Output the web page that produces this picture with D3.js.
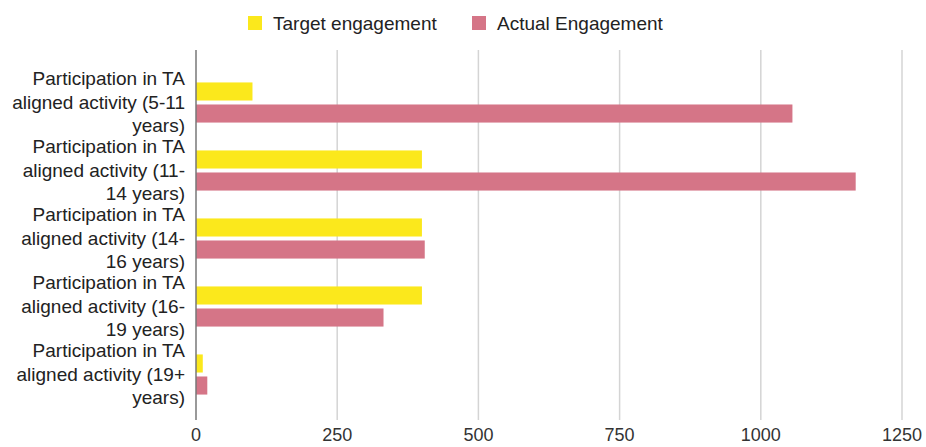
<!DOCTYPE html>
<html>
<head>
<meta charset="utf-8">
<script src="https://cdn.jsdelivr.net/npm/d3@7"></script>
<style>
  body { margin: 0; background: #fff; }
  svg text { font-family: "Liberation Sans", Arial, sans-serif; }
</style>
</head>
<body>
<svg id="chart" width="926" height="447"></svg>
<script>
// Data
const categories = [
  ["Participation in TA", "aligned activity (5-11", "years)"],
  ["Participation in TA", "aligned activity (11-", "14 years)"],
  ["Participation in TA", "aligned activity (14-", "16 years)"],
  ["Participation in TA", "aligned activity (16-", "19 years)"],
  ["Participation in TA", "aligned activity (19+", "years)"]
];
const seriesNames = ["Target engagement", "Actual Engagement"];
const targetValues = [100, 400, 400, 400, 12];
const actualValues = [1056, 1168, 405, 332, 20];
const xTicks = [0, 250, 500, 750, 1000, 1250];
const colors = ["#fbe81c", "#d57587"];

const svg = d3.select("#chart");
const plotLeft = 196, plotRight = 902, plotTop = 50, plotBottom = 420;
const fontSize = 19;
const lineStep = 23.3;

const x = d3.scaleLinear().domain([0, 1250]).range([plotLeft, plotRight]);
const y = d3.scaleBand().domain(d3.range(categories.length))
  .range([68.5, 408.5]).paddingInner(0.41).paddingOuter(0.205);
const ySub = d3.scaleBand().domain([0, 1]).range([0, y.bandwidth()]).paddingInner(0.18);

// gridlines
svg.append("g").selectAll("line")
  .data(xTicks.slice(1))
  .join("line")
  .attr("x1", d => x(d)).attr("x2", d => x(d))
  .attr("y1", plotTop).attr("y2", plotBottom)
  .attr("stroke", "#d4d4d4").attr("stroke-width", 1.5);

// tick labels
svg.append("g").selectAll("text")
  .data(xTicks)
  .join("text")
  .attr("x", d => x(d)).attr("y", 441)
  .attr("text-anchor", "middle")
  .style("font-size", "18px")
  .style("fill", "#333")
  .text(d => d);

// bars
const rows = categories.map((c, i) => ({ i, vals: [targetValues[i], actualValues[i]] }));
const groups = svg.append("g").selectAll("g")
  .data(rows)
  .join("g")
  .attr("transform", d => `translate(0,${y(d.i)})`);

groups.selectAll("rect")
  .data(d => d.vals.map((v, k) => ({ v, k })))
  .join("rect")
  .attr("x", x(0))
  .attr("y", d => ySub(d.k))
  .attr("width", d => x(d.v) - x(0))
  .attr("height", ySub.bandwidth())
  .attr("fill", d => colors[d.k]);

// zero axis line
svg.append("line")
  .attr("x1", x(0)).attr("x2", x(0))
  .attr("y1", plotTop).attr("y2", plotBottom)
  .attr("stroke", "#777").attr("stroke-width", 1.5);

// category labels (3 lines each, centred on the group)
const labels = svg.append("g").selectAll("text")
  .data(categories)
  .join("text")
  .attr("text-anchor", "end")
  .style("font-size", fontSize + "px")
  .style("fill", "#222")
  .attr("y", (d, i) => y(i) + y.bandwidth() / 2 + 6);

labels.selectAll("tspan")
  .data(d => d)
  .join("tspan")
  .attr("x", 185)
  .attr("dy", (d, j) => j === 0 ? -lineStep : lineStep)
  .text(d => d);

// legend
const legendX = [248, 472];
const legend = svg.append("g").selectAll("g")
  .data(seriesNames)
  .join("g")
  .attr("transform", (d, i) => `translate(${legendX[i]},16)`);
legend.append("rect")
  .attr("width", 14).attr("height", 14)
  .attr("fill", (d, i) => colors[i]);
legend.append("text")
  .attr("x", 25).attr("y", 7)
  .attr("dy", "0.35em")
  .style("font-size", fontSize + "px")
  .style("fill", "#222")
  .text(d => d);
</script>
</body>
</html>
